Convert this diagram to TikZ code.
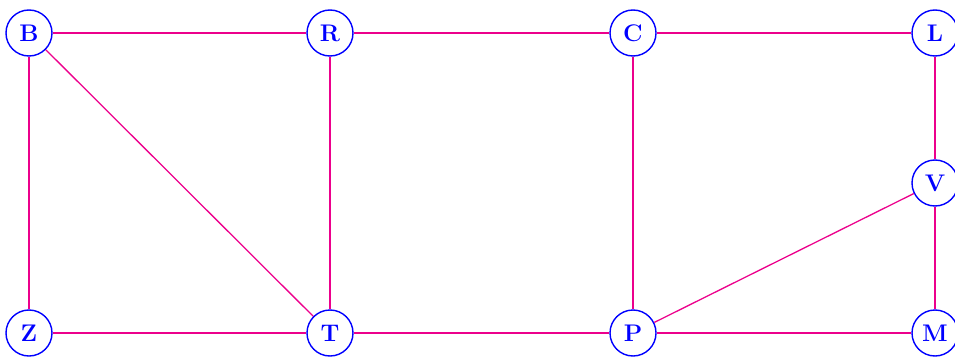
\documentclass[tikz,border=0pt]{standalone}
\usepackage{fontspec}
\definecolor{linkcol}{RGB}{236,0,140}
\tikzset{
  vtx/.style={circle, draw=blue, line width=1.2pt, fill=white, text=blue, minimum size=1.38cm, inner sep=0pt, font=\fontsize{20.5}{24}\selectfont\bfseries},
  link/.style={draw=linkcol, line width=1.1pt}
}
\begin{document}
\begin{tikzpicture}[x=0.03cm,y=-0.03cm]
\useasboundingbox (0,0) rectangle (955,360);
\node[vtx] (B) at (29,33) {B};
\node[vtx] (R) at (330,33) {R};
\node[vtx] (C) at (633,33) {C};
\node[vtx] (L) at (935,33) {L};
\node[vtx] (V) at (935,183) {V};
\node[vtx] (Z) at (29,333) {Z};
\node[vtx] (T) at (330,333) {T};
\node[vtx] (P) at (633,333) {P};
\node[vtx] (M) at (935,333) {M};
\draw[link] (B) -- (R);
\draw[link] (R) -- (C);
\draw[link] (C) -- (L);
\draw[link] (L) -- (V);
\draw[link] (V) -- (M);
\draw[link] (B) -- (Z);
\draw[link] (B) -- (T);
\draw[link] (R) -- (T);
\draw[link] (C) -- (P);
\draw[link] (P) -- (V);
\draw[link] (Z) -- (T);
\draw[link] (T) -- (P);
\draw[link] (P) -- (M);
\end{tikzpicture}
\end{document}
